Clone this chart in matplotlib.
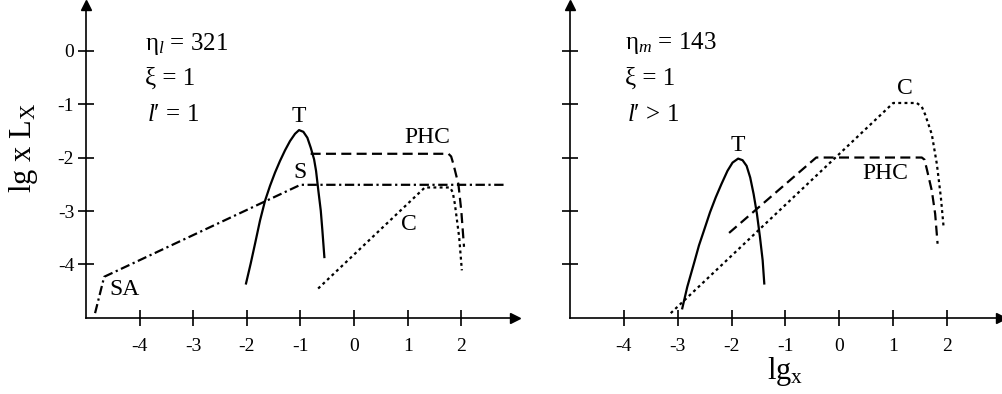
import numpy as np
import matplotlib
matplotlib.use("Agg")
import matplotlib.pyplot as plt

plt.rcParams['font.family'] = ['Liberation Serif', 'DejaVu Serif']
plt.rcParams['mathtext.fontset'] = 'custom'
plt.rcParams['mathtext.rm'] = 'Liberation Serif'
plt.rcParams['mathtext.it'] = 'Liberation Serif:italic'
plt.rcParams['axes.unicode_minus'] = False

# left panel (l' = 1) (lg x , lg x L_x)
sa_x = [-4.83, -4.66, -1.0, 2.8]
sa_y = [-4.91, -4.23, -2.51, -2.51]

t1_x = [-2.015, -1.928, -1.847, -1.754, -1.66, -1.567, -1.474, -1.381, -1.287, -1.194, -1.101, -1.026,
	-0.946, -0.871, -0.808, -0.746, -0.709, -0.666, -0.621, -0.591, -0.554]
t1_y = [-4.355, -3.983, -3.612, -3.178, -2.807, -2.528, -2.281, -2.063, -1.864, -1.691, -1.556, -1.487,
	-1.519, -1.63, -1.816, -2.032, -2.249, -2.621, -2.993, -3.364, -3.861]

phc1_x = [-0.81, 1.76, 1.81, 1.853, 1.946, 2.00, 2.05]
phc1_y = [-1.93, -1.93, -1.98, -2.125, -2.50, -3.0, -3.67]

c1_x = [-0.67, 1.32, 1.79, 1.84, 1.88, 1.96, 2.01]
c1_y = [-4.45, -2.56, -2.56, -2.65, -2.87, -3.49, -4.11]

# right panel (l' > 1)
t2_x = [-2.916, -2.823, -2.70, -2.606, -2.513, -2.401, -2.295, -2.189, -2.077, -1.983, -1.879,
	-1.797, -1.722, -1.655, -1.592, -1.53, -1.474, -1.424, -1.394]
t2_y = [-4.82, -4.418, -3.983, -3.643, -3.364, -3.024, -2.745, -2.496, -2.249, -2.095, -2.02,
	-2.05, -2.156, -2.374, -2.682, -3.054, -3.489, -3.922, -4.355]

phc2_x = [-2.047, -0.43, 1.53, 1.58, 1.623, 1.716, 1.778, 1.823]
phc2_y = [-3.41, -2.0, -2.0, -2.04, -2.217, -2.621, -3.054, -3.612]

c2_x = [-3.13, 1.0, 1.437, 1.53, 1.592, 1.716, 1.81, 1.884, 1.935]
c2_y = [-4.91, -0.98, -0.98, -1.05, -1.195, -1.567, -2.125, -2.745, -3.303]

xticks = [-4, -3, -2, -1, 0, 1, 2]
yticks = [0, -1, -2, -3, -4]

LW = 1.6
DASH = (4.5, 2.4)
DOT = (1.3, 1.5)
DASHDOT = (4.2, 1.6, 1.0, 1.6)

fig = plt.figure(figsize=(10.03, 3.94), dpi=100)
ax1 = fig.add_axes([0.0857, 0.193, 0.4277, 0.794])
ax2 = fig.add_axes([0.5683, 0.193, 0.4297, 0.794])

for ax in (ax1, ax2):
	ax.set_xlim(-5, 3.0)
	ax.set_ylim(-5, 0.85)
	ax.spines['top'].set_visible(False)
	ax.spines['right'].set_visible(False)
	ax.spines['left'].set_linewidth(1.2)
	ax.spines['bottom'].set_linewidth(1.2)
	ax.set_xticks(xticks)
	ax.set_yticks(yticks)
	ax.tick_params(direction='inout', length=11, width=1.2, labelsize=14)
	ax.tick_params(axis='x', pad=9)
	ax.tick_params(axis='y', pad=3)
	ax.plot(1, 0, ">", color="k", markersize=7, transform=ax.transAxes, clip_on=False)
	ax.plot(0, 1, "^", color="k", markersize=7, transform=ax.transAxes, clip_on=False)

ax2.set_yticklabels([])

# left
ax1.plot(sa_x, sa_y, color='k', lw=LW, dashes=DASHDOT)
ax1.plot(t1_x, t1_y, color='k', lw=LW)
ax1.plot(phc1_x, phc1_y, color='k', lw=LW, dashes=DASH)
ax1.plot(c1_x, c1_y, color='k', lw=LW, dashes=DOT)

ax1.text(-1.03, -1.23, "T", fontsize=17, ha='center', va='center')
ax1.text(-1.0, -2.28, "S", fontsize=17, ha='center', va='center')
ax1.text(1.36, -1.63, "PHC", fontsize=17, ha='center', va='center')
ax1.text(1.03, -3.25, "C", fontsize=17, ha='center', va='center')
ax1.text(-4.29, -4.47, "SA", fontsize=17, ha='center', va='center')

ax1.text(-3.90, 0.01, r"η$_{l}$ = 321", fontsize=18, ha='left', va='baseline')
ax1.text(-3.90, -0.64, "ξ = 1", fontsize=18, ha='left', va='baseline')
ax1.text(-3.87, -1.32, r"$l$′ = 1", fontsize=18, ha='left', va='baseline')

ax1.set_ylabel(r"lg x L$_\mathrm{X}$", fontsize=22)
ax1.yaxis.set_label_coords(-0.106, 0.545)

# right
ax2.plot(t2_x, t2_y, color='k', lw=LW)
ax2.plot(phc2_x, phc2_y, color='k', lw=LW, dashes=DASH)
ax2.plot(c2_x, c2_y, color='k', lw=LW, dashes=DOT)

ax2.text(-1.88, -1.77, "T", fontsize=17, ha='center', va='center')
ax2.text(0.845, -2.30, "PHC", fontsize=17, ha='center', va='center')
ax2.text(1.22, -0.71, "C", fontsize=17, ha='center', va='center')

ax2.text(-3.97, 0.03, r"η$_{m}$ = 143", fontsize=18, ha='left', va='baseline')
ax2.text(-3.97, -0.64, "ξ = 1", fontsize=18, ha='left', va='baseline')
ax2.text(-3.94, -1.32, r"$l$′ > 1", fontsize=18, ha='left', va='baseline')

ax2.set_xlabel(r"lg$_\mathrm{x}$", fontsize=22, labelpad=0)

fig.savefig("out.png", dpi=100)
